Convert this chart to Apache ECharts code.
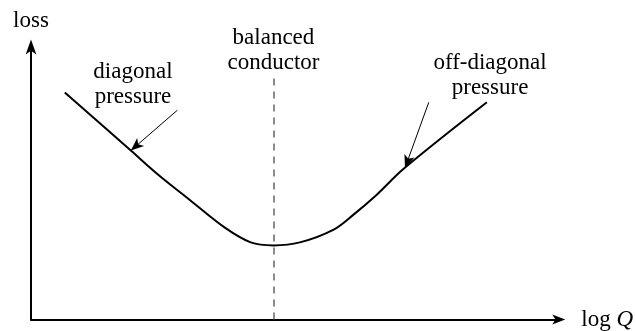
<!DOCTYPE html>
<html>
<head>
<meta charset="utf-8">
<script src="https://cdn.jsdelivr.net/npm/echarts@6/dist/echarts.min.js"></script>
<style>
  html, body { margin: 0; padding: 0; background: #fff; }
  #chart { width: 636px; height: 331px; }
</style>
</head>
<body>
<div id="chart"></div>
<script>
// Loss curve as a function of log Q (arbitrary units, 0..10 on both axes)
const lossCurveX = [0.64, 1.89, 2.38, 3.03, 3.67, 4.16, 4.59, 5.09, 5.73, 6.10, 6.54, 7.06, 8.63];
const lossCurveY = [8.33, 6.20, 5.36, 4.35, 3.37, 2.83, 2.72, 2.83, 3.30, 3.84, 4.57, 5.54, 7.97];

// Position of the balanced conductor (minimum of the loss) and the dashed guide extent
const balancedX = 4.59;
const guideTopY = 8.84;

// Annotation text and anchor points
const noteTexts = ['diagonal\npressure', 'balanced\nconductor', 'off-diagonal\npressure'];
const noteX = [1.93, 4.59, 8.69];
const noteY = [8.62, 9.86, 8.97];

// Pointer arrows: [fromX, fromY, toX, toY]
const pointerDiagonal = [2.77, 7.68, 1.89, 6.20];
const pointerOffDiagonal = [7.53, 7.97, 7.08, 5.56];

const serif = '"Liberation Serif", "Times New Roman", serif';
const ink = '#000';
const fontSize = 23;

const chart = echarts.init(document.getElementById('chart'), null, { renderer: 'canvas' });

const curveData = lossCurveX.map((x, i) => [x, lossCurveY[i]]);
const noteData = noteTexts.map((t, i) => ({ value: [noteX[i], noteY[i]], name: t }));

function pointer(p) {
  return [{ coord: [p[0], p[1]] }, { coord: [p[2], p[3]] }];
}

chart.setOption({
  animation: false,
  backgroundColor: '#fff',
  grid: { left: 31, right: 71, top: 47, bottom: 8, containLabel: false },
  xAxis: {
    type: 'value', min: 0, max: 10,
    name: '{a|log }{q|Q}',
    nameLocation: 'end', nameGap: 22,
    nameTextStyle: {
      rich: {
        a: { fontFamily: serif, fontSize: fontSize, color: ink },
        q: { fontFamily: serif, fontSize: fontSize, fontStyle: 'italic', color: ink }
      }
    },
    axisLine: {
      show: true, onZero: false,
      symbol: ['none', 'arrow'], symbolSize: [7.5, 13], symbolOffset: [0, 6],
      lineStyle: { color: '#000', width: 2 }
    },
    axisTick: { show: false }, axisLabel: { show: false }, splitLine: { show: false }
  },
  yAxis: {
    type: 'value', min: 0, max: 10,
    name: 'loss',
    nameLocation: 'end', nameGap: 15,
    nameTextStyle: { fontFamily: serif, fontSize: fontSize, color: ink },
    axisLine: {
      show: true, onZero: false,
      symbol: ['none', 'arrow'], symbolSize: [8, 15], symbolOffset: [0, 7.5],
      lineStyle: { color: '#000', width: 2 }
    },
    axisTick: { show: false }, axisLabel: { show: false }, splitLine: { show: false }
  },
  series: [
    {
      name: 'loss',
      type: 'line',
      data: curveData,
      smooth: 0.35,
      showSymbol: false,
      lineStyle: { color: '#000', width: 2 },
      z: 3,
      markLine: {
        silent: true,
        animation: false,
        label: { show: false },
        data: [
          [
            { coord: [balancedX, 0], symbol: 'none',
              lineStyle: { color: '#666', width: 1.5, type: [7, 6] } },
            { coord: [balancedX, guideTopY], symbol: 'none' }
          ],
          [
            Object.assign(pointer(pointerDiagonal)[0], { symbol: 'none',
              lineStyle: { color: '#000', width: 1, type: 'solid' } }),
            Object.assign(pointer(pointerDiagonal)[1], { symbol: 'arrow', symbolSize: [8, 13] })
          ],
          [
            Object.assign(pointer(pointerOffDiagonal)[0], { symbol: 'none',
              lineStyle: { color: '#000', width: 1, type: 'solid' } }),
            Object.assign(pointer(pointerOffDiagonal)[1], { symbol: 'arrow', symbolSize: [8, 13] })
          ]
        ]
      }
    },
    {
      name: 'notes',
      type: 'scatter',
      data: noteData,
      symbolSize: 0,
      silent: true,
      itemStyle: { color: '#000', opacity: 1 },
      label: {
        show: true,
        position: 'inside',
        formatter: p => p.name,
        fontFamily: serif,
        fontSize: fontSize,
        lineHeight: 25,
        color: ink,
        opacity: 1,
        textBorderWidth: 0,
        align: 'center',
        verticalAlign: 'middle'
      }
    }
  ]
});
</script>
</body>
</html>
